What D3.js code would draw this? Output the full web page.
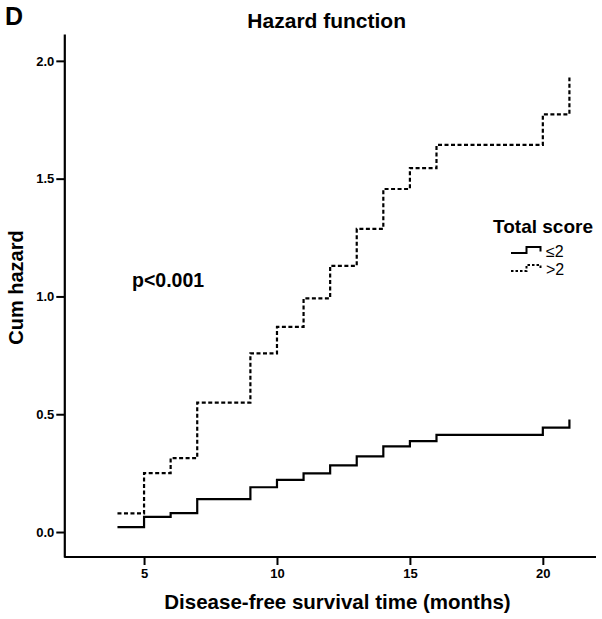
<!DOCTYPE html>
<html>
<head>
<meta charset="utf-8">
<script src="https://cdn.jsdelivr.net/npm/d3@7"></script>
<style>
  html, body { margin: 0; padding: 0; background: #fff; }
  svg { display: block; font-family: "Liberation Sans", Arial, sans-serif; }
</style>
</head>
<body>
<svg id="chart" width="602" height="619"></svg>
<script>
// ---- data ----
const times = [4, 5, 6, 7, 9, 10, 11, 12, 13, 14, 15, 16, 20, 21];
const hazardLow = [0.021, 0.064, 0.080, 0.140, 0.190, 0.221, 0.249, 0.283, 0.321, 0.364, 0.386, 0.412, 0.443, 0.478];
const hazardHigh = [0.079, 0.250, 0.314, 0.549, 0.758, 0.871, 0.992, 1.130, 1.287, 1.456, 1.545, 1.643, 1.773, 1.929];
const seriesNames = ["\u22642", ">2"];
const xTicks = [5, 10, 15, 20];
const yTicks = [0.0, 0.5, 1.0, 1.5, 2.0];

const svg = d3.select("#chart");
const x = d3.scaleLinear().domain([2, 22]).range([64.3, 596]);
const y = d3.scaleLinear().domain([-0.106, 2.114]).range([557, 34]);

// axes
const xAxis = d3.axisBottom(x).tickValues(xTicks).tickFormat(d3.format("d")).tickSize(8).tickSizeOuter(0).tickPadding(4);
const yAxis = d3.axisLeft(y).tickValues(yTicks).tickFormat(d3.format(".1f")).tickSize(8).tickSizeOuter(0).tickPadding(2);

const gx = svg.append("g").attr("transform", `translate(0,${y.range()[0]})`).call(xAxis);
const gy = svg.append("g").attr("transform", `translate(${x.range()[0]},0)`).call(yAxis);
[gx, gy].forEach(g => {
  g.select(".domain").attr("stroke", "#000").attr("stroke-width", 2.2);
  g.selectAll(".tick line").attr("stroke", "#000").attr("stroke-width", 2);
  g.selectAll(".tick text").attr("fill", "#000").attr("font-size", 13).attr("font-weight", "bold")
    .attr("font-family", "'Liberation Sans', Arial, sans-serif");
});
gx.select(".domain").attr("d", `M${x.range()[0]},0H${x.range()[1]}`);

// lines
const line = d3.line().x(d => x(d[0])).y(d => y(d[1])).curve(d3.curveStepAfter);
const lowData = times.map((t, i) => [t, hazardLow[i]]);
const highData = times.map((t, i) => [t, hazardHigh[i]]);

svg.append("path").datum(lowData).attr("d", line)
  .attr("fill", "none").attr("stroke", "#000").attr("stroke-width", 2.2);
svg.append("path").datum(highData).attr("d", line)
  .attr("fill", "none").attr("stroke", "#000").attr("stroke-width", 2.2)
  .attr("stroke-dasharray", "4,2.5");

// texts
svg.append("text").attr("x", 5).attr("y", 25).attr("font-size", 25).attr("font-weight", "bold").text("D");
svg.append("text").attr("x", 326.7).attr("y", 28).attr("text-anchor", "middle")
  .attr("font-size", 21).attr("font-weight", "bold").text("Hazard function");
svg.append("text").attr("x", 337.5).attr("y", 609).attr("text-anchor", "middle")
  .attr("font-size", 20.5).attr("font-weight", "bold").text("Disease-free survival time (months)");
svg.append("text").attr("transform", "translate(22.5,287.5) rotate(-90)").attr("text-anchor", "middle")
  .attr("font-size", 20).attr("font-weight", "bold").text("Cum hazard");
svg.append("text").attr("x", 132).attr("y", 287).attr("font-size", 19.5).attr("font-weight", "bold").text("p<0.001");

// legend
const lg = svg.append("g");
lg.append("text").attr("x", 493).attr("y", 233).attr("font-size", 19).attr("font-weight", "bold").text("Total score");
const rows = [{name: seriesNames[0], dash: null, yb: 253}, {name: seriesNames[1], dash: "2.5,2", yb: 271}];
rows.forEach(r => {
  lg.append("path")
    .attr("d", `M511,${r.yb}H526.5V${r.yb - 6}H540.5V${r.yb - 1.5}`)
    .attr("fill", "none").attr("stroke", "#000").attr("stroke-width", 2)
    .attr("stroke-dasharray", r.dash);
  lg.append("text").attr("x", 546).attr("y", r.yb + 4).attr("font-size", 16).text(r.name);
});
</script>
</body>
</html>
